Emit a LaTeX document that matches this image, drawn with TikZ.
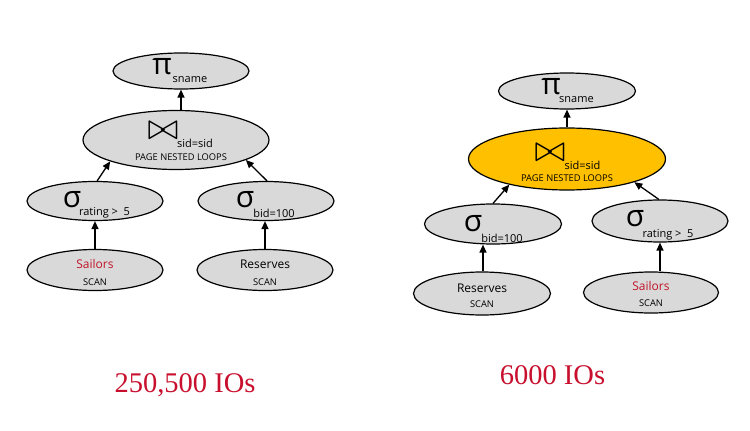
\documentclass[tikz,border=0pt]{standalone}
\usepackage{fontspec}
\setmainfont{Open Sans}
\newfontfamily\serifIO{Liberation Serif}
\usetikzlibrary{arrows.meta,shapes.geometric}
\definecolor{nodegray}{RGB}{217,217,217}
\definecolor{joingold}{RGB}{255,192,0}
\definecolor{ioscol}{RGB}{200,16,46}
\definecolor{sailcol}{RGB}{192,20,40}
\begin{document}
\begin{tikzpicture}[x=1pt,y=-1pt,
  opnode/.style={ellipse,draw=black,line width=1.2pt,fill=nodegray,inner sep=0pt},
  lbl/.style={inner sep=0pt,anchor=center},
  greek/.style={lbl,font=\fontsize{30}{30}\selectfont},
  joinsym/.style={lbl,font=\fontsize{10}{10}\selectfont},
  subtxt/.style={lbl,font=\fontsize{11}{11}\selectfont},
  smalltxt/.style={lbl,font=\fontsize{9.3}{9.3}\selectfont},
  reltxt/.style={lbl,font=\fontsize{12}{12}\selectfont},
  arr/.style={line width=1.3pt,-{Triangle[length=8pt,width=7pt]}},
  iostxt/.style={inner sep=0pt,anchor=base,text=ioscol,font=\serifIO\fontsize{28.5}{28.5}\selectfont}]
\useasboundingbox (0,0) rectangle (750,431);

% ---------- left plan ----------
\node[opnode,minimum width=136pt,minimum height=36pt] (pi1) at (181,71) {};
\node[opnode,minimum width=186pt,minimum height=59pt] (join1) at (176,140) {};
\node[opnode,minimum width=136pt,minimum height=39pt] (sl1) at (95,201) {};
\node[opnode,minimum width=136pt,minimum height=39pt] (sr1) at (266,201) {};
\node[opnode,minimum width=136pt,minimum height=41pt] (sail1) at (95,270) {};
\node[opnode,minimum width=136pt,minimum height=41pt] (res1) at (265,270) {};

\node[greek] (pi1g) at (162,67) {π};
\node[subtxt] (pi1s) at (190,80) {sname};
\node[joinsym] (join1g) at (163,131) {\scalebox{3.7}{$\bowtie$}};
\node[subtxt] (join1s) at (195,143) {sid=sid};
\node[smalltxt] (join1m) at (181,157) {PAGE NESTED LOOPS};
\node[greek] (sl1g) at (72,200) {σ};
\node[subtxt] (sl1s) at (104.5,213) {rating >\ \ 5};
\node[greek] (sr1g) at (245,200) {σ};
\node[subtxt] (sr1s) at (274,213) {bid=100};
\node[reltxt,text=sailcol] (sail1t) at (95,264) {Sailors};
\node[smalltxt] (sail1m) at (95,282) {SCAN};
\node[reltxt] (res1t) at (265,264) {Reserves};
\node[smalltxt] (res1m) at (265,282) {SCAN};

\draw[arr] (pi1.south |- join1.north) -- (pi1.south);
\draw[arr] (sl1.84) -- (join1.198);
\draw[arr] (sr1.87) -- (join1.344);
\draw[arr] (sail1.north) -- (sl1.south);
\draw[arr] (res1.north) -- (res1.north |- sr1.south);

% ---------- right plan ----------
\node[opnode,minimum width=137pt,minimum height=36pt] (pi2) at (567,91) {};
\node[opnode,fill=joingold,minimum width=197pt,minimum height=62pt] (join2) at (567,159) {};
\node[opnode,minimum width=137pt,minimum height=40pt] (sl2) at (493,224) {};
\node[opnode,minimum width=136pt,minimum height=42pt] (sr2) at (660,221) {};
\node[opnode,minimum width=137pt,minimum height=43pt] (res2) at (482,293.5) {};
\node[opnode,minimum width=135pt,minimum height=41pt] (sail2) at (651,292.5) {};

\node[greek] (pi2g) at (551,87) {π};
\node[subtxt] (pi2s) at (576.5,100) {sname};
\node[joinsym] (join2g) at (550,153) {\scalebox{3.7}{$\bowtie$}};
\node[subtxt] (join2s) at (582.5,165) {sid=sid};
\node[smalltxt] (join2m) at (567,178) {PAGE NESTED LOOPS};
\node[greek] (sl2g) at (473,224) {σ};
\node[subtxt] (sl2s) at (502,238) {bid=100};
\node[greek] (sr2g) at (635,219) {σ};
\node[subtxt] (sr2s) at (668,235) {rating >\ \ 5};
\node[reltxt] (res2t) at (482,288) {Reserves};
\node[smalltxt] (res2m) at (482,304) {SCAN};
\node[reltxt,text=sailcol] (sail2t) at (651,286) {Sailors};
\node[smalltxt] (sail2m) at (651,303) {SCAN};

\draw[arr] (join2.north) -- (pi2.south);
\draw[arr] (sl2.90) -- (join2.204.5);
\draw[arr] (sr2.93) -- (join2.341);
\draw[arr] ([xshift=1pt]res2.north) -- ([xshift=1pt]res2.north |- sl2.south);
\draw[arr] (sr2.south |- sail2.north) -- (sr2.south);

% ---------- costs ----------
\node[iostxt] (cost1) at (185,392) {250,500 IOs};
\node[iostxt] (cost2) at (552.5,384) {6000 IOs};
\end{tikzpicture}
\end{document}
